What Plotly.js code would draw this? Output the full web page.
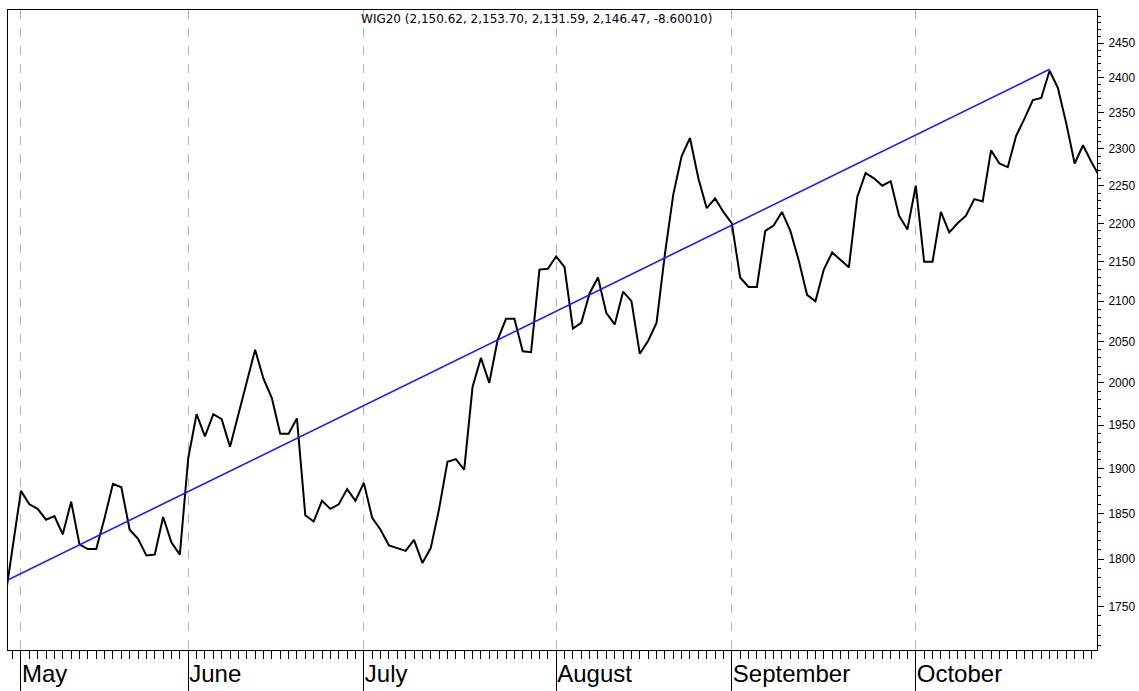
<!DOCTYPE html>
<html>
<head>
<meta charset="utf-8">
<script src="https://cdn.plot.ly/plotly-3.0.1.min.js"></script>
<style>
  html, body { margin: 0; padding: 0; background: #ffffff; }
  #chart { width: 1139px; height: 691px; }
</style>
</head>
<body>
<div id="chart"></div>
<script>
// Daily closing values of WIG20 (trading day index starts at -1: partly visible first day)
const closes = [
  1752, 1810, 1875, 1860, 1855, 1843, 1847, 1827, 1863, 1816,
  1811, 1811, 1845, 1883, 1879, 1832, 1822, 1804, 1805, 1846,
  1818, 1805, 1912, 1963, 1937, 1963, 1957, 1925, 1962, 2002,
  2040, 2005, 1982, 1940, 1940, 1958, 1848, 1841, 1864, 1855,
  1860, 1877, 1864, 1884, 1845, 1832, 1815, 1812, 1809, 1821,
  1796, 1812, 1855, 1908, 1911, 1899, 1995, 2030, 2000, 2052,
  2078, 2078, 2038, 2037, 2140, 2141, 2157, 2143, 2066, 2073,
  2110, 2130, 2085, 2071, 2112, 2100, 2035, 2051, 2073, 2160,
  2238, 2290, 2315, 2260, 2220, 2233, 2215, 2200, 2130, 2118,
  2118, 2190, 2197, 2215, 2190, 2152, 2108, 2100, 2140, 2162,
  2153, 2143, 2235, 2267, 2260, 2250, 2256, 2210, 2192, 2250,
  2150, 2150, 2215, 2188, 2200, 2210, 2232, 2229, 2298, 2280,
  2275, 2318, 2342, 2368, 2371, 2410, 2385, 2335, 2280, 2305,
  2282, 2262
];
const firstDay = -1;
const days = closes.map((_, k) => firstDay + k);

// Trend line from the first day to the October peak
const trendDays = [-1, 124];
const trendValues = [1776, 2412];

// Month labels and the trading-day index where each month starts
const monthNames = ['May', 'June', 'July', 'August', 'September', 'October'];
const monthStartDay = [1, 21, 42, 65, 86, 108];

// Price axis labels
const yTickValues = [1750, 1800, 1850, 1900, 1950, 2000, 2050, 2100, 2150, 2200, 2250, 2300, 2350, 2400, 2450];
const yMinorValues = [];
for (let v = 1710; v <= 2490; v += 10) yMinorValues.push(v);

const titleText = 'WIG20 (2,150.62, 2,153.70, 2,131.59, 2,146.47, -8.60010)';

const traces = [
  {
    x: days, y: closes, type: 'scatter', mode: 'lines',
    line: { color: '#000000', width: 2 }, hoverinfo: 'skip'
  },
  {
    x: trendDays, y: trendValues, type: 'scatter', mode: 'lines',
    line: { color: '#1a1aff', width: 1.6 }, hoverinfo: 'skip'
  }
];

const layout = {
  width: 1139, height: 691,
  margin: { l: 8, r: 42, t: 10, b: 41, pad: 0 },
  paper_bgcolor: '#ffffff', plot_bgcolor: '#ffffff',
  showlegend: false,
  title: {
    text: titleText,
    x: 553 / 1139, xanchor: 'center', xref: 'paper',
    y: 1 - 19 / 691, yanchor: 'middle', yref: 'container',
    font: { family: 'DejaVu Sans, Verdana, sans-serif', size: 12, color: '#000000' }
  },
  xaxis: {
    range: [-0.55, 129.67],
    tickmode: 'array', tickvals: monthStartDay, ticktext: monthNames,
    ticks: 'outside', ticklen: 40, tickwidth: 1, tickcolor: '#000000',
    ticklabelposition: 'outside right',
    ticklabelstandoff: 2,
    tickfont: { family: 'Liberation Sans, Arial, sans-serif', size: 24, color: '#000000' },
    showgrid: true, gridcolor: '#b4b4b4', griddash: 'dash', gridwidth: 1,
    showline: true, linecolor: '#000000', linewidth: 1, mirror: true,
    zeroline: false,
    minor: { tickmode: 'linear', tick0: 0, dtick: 1, ticks: 'outside', ticklen: 8, tickwidth: 1, tickcolor: '#000000', showgrid: false }
  },
  yaxis: {
    type: 'log', side: 'right',
    range: [Math.log10(1705), Math.log10(2499)],
    tickmode: 'array', tickvals: yTickValues, ticktext: yTickValues.map(String),
    ticks: 'outside', ticklen: 6, tickwidth: 1, tickcolor: '#000000',
    ticklabelstandoff: 2,
    tickfont: { family: 'Liberation Sans, Arial, sans-serif', size: 12, color: '#000000' },
    showgrid: false, showline: true, linecolor: '#000000', linewidth: 1, mirror: true,
    zeroline: false,
    minor: { tickmode: 'array', tickvals: yMinorValues, ticks: 'outside', ticklen: 3, tickwidth: 1, tickcolor: '#000000', showgrid: false }
  }
};

Plotly.newPlot('chart', traces, layout, { staticPlot: true, displayModeBar: false });
</script>
</body>
</html>
